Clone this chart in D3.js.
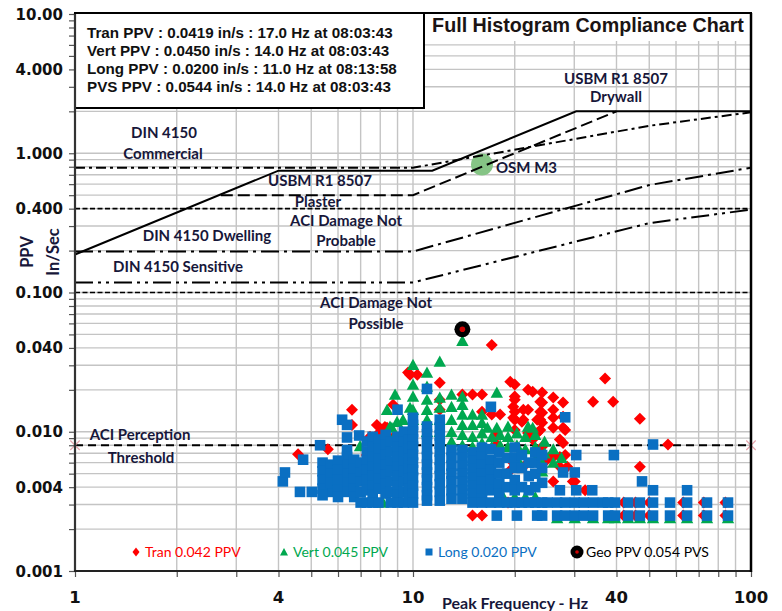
<!DOCTYPE html>
<html>
<head>
<meta charset="utf-8">
<script src="https://cdn.jsdelivr.net/npm/d3@7"></script>
<style>
  body { margin: 0; background: #fff; }
  .lbl { font-family: Lato, "Open Sans", sans-serif; font-weight: bold; font-size: 15px; fill: #17173a; }
  .tick-lbl { font-family: "DejaVu Sans", sans-serif; font-weight: bold; font-size: 15px; fill: #111; }
  .info { font-family: "Liberation Sans", Arial, sans-serif; font-weight: bold; font-size: 15.2px; fill: #111; }
  .legend { font-family: Lato, sans-serif; font-size: 14px; }
</style>
</head>
<body>
<script>
// ---- data ----
var yLabelVals = [10, 4, 1, 0.4, 0.1, 0.04, 0.01, 0.004, 0.001];
var yLabelText = ["10.00", "4.000", "1.000", "0.400", "0.100", "0.040", "0.010", "0.004", "0.001"];
var xLabelVals = [1, 4, 10, 40, 100];
var xLabelText = ["1", "4", "10", "40", "100"];

var infoLines = [
  "Tran PPV : 0.0419 in/s : 17.0 Hz at 08:03:43",
  "Vert PPV : 0.0450 in/s : 14.0 Hz at 08:03:43",
  "Long PPV : 0.0200 in/s : 11.0 Hz at 08:13:58",
  "PVS PPV : 0.0544 in/s : 14.0 Hz at 08:03:43"
];

var legendLabels = ["Tran 0.042 PPV", "Vert 0.045 PPV", "Long 0.020 PPV", "Geo PPV 0.054 PVS"];

// compliance curves [Hz, in/s]
var usbmDrywall = [[1, 0.1875], [4, 0.75], [11.4, 0.75], [30.4, 2.0], [100, 2.0]];
var usbmPlaster = [[2.7, 0.5], [10, 0.5], [40, 2.0]];
var dinCommercial = [[1, 0.787], [10, 0.787], [50, 1.575], [100, 1.969]];
var dinDwelling = [[1, 0.197], [10, 0.197], [50, 0.591], [100, 0.787]];
var dinSensitive = [[1, 0.118], [10, 0.118], [50, 0.315], [100, 0.394]];
var aciNotProbable = [[1, 0.4], [100, 0.4]];
var aciNotPossible = [[1, 0.1], [100, 0.1]];
var aciPerception = [[1, 0.008], [100, 0.008]];
var osmM3 = [[16, 0.83]];
var geoPts = [[14, 0.0544]];

// events [Hz, in/s]
var tranPts = [
  [4.57,0.0069],[5.6,0.0075],[6.6,0.0144],[6.6,0.0112],[7.3,0.0068],[7.46,0.0092],[7.82,0.0112],
  [7.99,0.0100],[8.26,0.0108],[8.38,0.0107],[8.73,0.0156],[8.73,0.0091],[9.67,0.0266],[9.8,0.0257],
  [10.3,0.0257],[12,0.0225],[12,0.017],[12,0.0144],[14,0.0185],[15,0.0185],[16,0.0185],[16,0.0139],
  [17.1,0.0419],[17.1,0.0133],[18.1,0.0133],[19.4,0.0229],[20,0.0218],[20,0.0179],[20,0.017],
  [20,0.0139],[20,0.0122],[20,0.0103],[19.8,0.0151],[19.8,0.0126],[21,0.0118],[21.2,0.0144],
  [21.2,0.0122],[21.9,0.02],[21.9,0.0144],[21.9,0.0098],[22.6,0.0194],[22.6,0.0088],[23.3,0.0122],
  [23.3,0.0098],[23.8,0.0164],[23.8,0.0139],[23.8,0.0122],[23.8,0.0103],[24.1,0.0191],[24.1,0.0162],
  [24.1,0.0137],[24.1,0.0116],[24.1,0.0078],[24.1,0.0068],[26,0.0176],[26,0.0144],[26,0.0126],
  [26,0.0107],[26,0.0066],[26,0.0044],[27.2,0.0088],[27.2,0.0066],[27.2,0.0056],[27.8,0.0162],
  [27.8,0.0128],[27.8,0.0107],[27.8,0.0083],[28.2,0.0103],[28.2,0.0068],[25.7,0.0068],[28.6,0.0056],
  [29.7,0.0044],[30.1,0.0044],[32.3,0.0038],[34.1,0.0164],[37,0.0241],[39.1,0.0164],[46.9,0.0124],
  [46.9,0.0056],[56.8,0.0081],[15,0.0025],[16,0.0025],[19.1,0.0031],[17.7,0.0098],[17.7,0.0081],
  [19.4,0.0063],[19.4,0.0053],[21.2,0.0056],[23,0.0074],[24.9,0.0063],
  [42,0.0031],[45.5,0.0031],[50,0.0031],[63,0.0031],[72.5,0.0031],[84,0.0031],
  [42,0.0025],[45.5,0.0025],[50,0.0025],[63,0.0025],[72.5,0.0025],[84,0.0025]
];

var vertPts = [
  [14,0.045],[12,0.0319],[10,0.0303],[11,0.0266],[10,0.0218],[11,0.0211],[10,0.0179],[11,0.017],
  [12,0.0176],[13,0.0185],[14,0.0179],[17.7,0.0191],[11,0.0144],[12,0.0149],[13,0.0151],[14,0.0156],
  [10,0.0144],[13,0.0122],[14,0.0133],[15,0.0133],[16,0.0133],[16,0.0116],[16.6,0.0107],[17.7,0.0107],
  [19.1,0.0109],[21.9,0.0109],[22.6,0.0107],[8.85,0.0185],[8.38,0.0144],[8.97,0.0118],[9.34,0.0122],
  [9.8,0.0149],[8.66,0.0107],[6.97,0.0079],[8.15,0.0031],[9.15,0.0088],[8.55,0.0109],[8.85,0.0095],
  [10,0.0122],[11,0.0122],[11,0.01],[12,0.0122],[12,0.01],[13,0.01],[13,0.0085],[14,0.0112],
  [14,0.0095],[14,0.008],[15,0.0112],[15,0.0092],[15,0.0078],[16,0.0098],[16,0.0083],[17.1,0.0092],
  [17.1,0.0078],[18.1,0.0095],[18.1,0.008],[19.1,0.0092],[19.1,0.0078],[20.3,0.0098],[20.3,0.008],
  [20.3,0.0065],[21.5,0.0092],[21.5,0.0075],[23,0.0095],[23,0.0078],[23,0.0063],[24.5,0.0085],
  [24.5,0.007],[24.1,0.006],[24.1,0.0052],[26,0.0075],[26,0.006],[27.5,0.0065],
  [18.5,0.0034],[20,0.0034],[21.5,0.0034],[23,0.0034],
  [26.7,0.0024],[30.1,0.0024],[34.1,0.0024],[37.8,0.0024],[39.6,0.0024],[43.3,0.0024],[46.9,0.0024],
  [51.3,0.0024],[57.6,0.0024],[64.7,0.0024],[74.1,0.0024],[85.5,0.0024]
];

var longPts = [
  [4.12,0.0044],[4.18,0.0051],[4.63,0.0037],[4.73,0.0063],[5.02,0.0037],[5.31,0.008],[5.42,0.0037],
  [5.68,0.0037],[6.17,0.0122],[6.38,0.0112],[6.38,0.0091],[6.93,0.0094],[6.38,0.0074],[6.38,0.0066],
  [5.4,0.006],[5.4,0.0052],[5.4,0.0045],[5.4,0.0039],[5.4,0.0035],
  [5.7,0.0058],[5.7,0.005],[5.7,0.0043],
  [6.0,0.0062],[6.0,0.0053],[6.0,0.0045],[6.0,0.0038],[6.0,0.0034],
  [6.4,0.0058],[6.4,0.005],[6.4,0.0043],[6.4,0.0037],
  [6.7,0.0063],[6.7,0.0054],[6.7,0.0046],[6.7,0.0039],[6.7,0.0034],
  [7.0,0.006],[7.0,0.0051],[7.0,0.0044],[7.0,0.0037],[7.0,0.0031],
  [7.3,0.0085],[7.3,0.0072],[7.3,0.0062],[7.3,0.0053],[7.3,0.0045],[7.3,0.0038],[7.3,0.0031],
  [7.6,0.0092],[7.6,0.0078],[7.6,0.0066],[7.6,0.0056],[7.6,0.0048],[7.6,0.0041],[7.6,0.0035],[7.6,0.0031],
  [7.9,0.0088],[7.9,0.0075],[7.9,0.0064],[7.9,0.0054],[7.9,0.0046],[7.9,0.0039],[7.9,0.0031],
  [8.3,0.0095],[8.3,0.008],[8.3,0.0068],[8.3,0.0058],[8.3,0.0049],[8.3,0.0042],[8.3,0.0036],
  [8.6,0.0085],[8.6,0.0072],[8.6,0.0061],[8.6,0.0052],[8.6,0.0044],[8.6,0.0037],[8.6,0.0031],
  [9.0,0.0144],[9.0,0.0092],[9.0,0.0078],[9.0,0.0066],[9.0,0.0056],[9.0,0.0048],[9.0,0.0041],[9.0,0.0035],[9.0,0.0031],
  [9.4,0.01],[9.4,0.0085],[9.4,0.0072],[9.4,0.0061],[9.4,0.0052],[9.4,0.0044],[9.4,0.0037],[9.4,0.0031],
  [9.7,0.0088],[9.7,0.0075],[9.7,0.0064],[9.7,0.0054],[9.7,0.0046],[9.7,0.0039],[9.7,0.0033],
  [10,0.0126],[10,0.0112],[10,0.01],[10,0.0088],[10,0.0078],[10,0.0068],[10,0.006],[10,0.0053],[10,0.0047],[10,0.0041],[10,0.0036],[10,0.0031],
  [11,0.0203],[11,0.0109],[11,0.0096],[11,0.0085],[11,0.0075],[11,0.0066],[11,0.0058],[11,0.0051],[11,0.0045],[11,0.004],[11,0.0035],[11,0.0032],
  [12,0.0122],[12,0.0107],[12,0.0094],[12,0.0082],[12,0.0072],[12,0.0063],[12,0.0055],[12,0.0048],[12,0.0042],[12,0.0037],[12,0.0032],
  [13,0.0074],[13,0.0065],[13,0.0057],[13,0.005],[13,0.0044],[13,0.0038],[13,0.0033],
  [14,0.0074],[14,0.0065],[14,0.0057],[14,0.005],[14,0.0044],[14,0.0038],[14,0.0033],
  [15,0.0071],[15,0.0062],[15,0.0054],[15,0.0047],[15,0.0041],[15,0.0036],[15,0.0031],
  [16,0.0077],[16,0.0066],[16,0.0058],[16,0.005],[16,0.0044],[16,0.0038],[16,0.0033],[16,0.0031],
  [17,0.0151],[17,0.0075],[17,0.0063],[17,0.0053],[17,0.0045],[17,0.0038],[17,0.0031],[17.7,0.0025],
  [18,0.0071],[18,0.006],[18,0.005],[18,0.0042],[18,0.0036],[18,0.0031],
  [19,0.0065],[19,0.005],[19,0.004],[19,0.0031],
  [20,0.0077],[20,0.0065],[20,0.0055],[20,0.0045],[20,0.0038],[20,0.0031],[20.3,0.0025],
  [21,0.0068],[21,0.0055],[21,0.004],[21,0.0031],
  [22,0.006],[22,0.0048],[22,0.0038],[22,0.0031],
  [23,0.0071],[23,0.006],[23,0.005],[23,0.004],[23,0.0031],[23.3,0.0025],
  [24.1,0.0068],[24.1,0.0055],[24.1,0.0043],[24.1,0.0031],[24.1,0.0025],
  [28.2,0.0127],[30.4,0.0068],[39.3,0.0068],[27.8,0.0051],[30.1,0.0051],[47.6,0.0044],[33.9,0.0038],
  [27.2,0.0038],[30.4,0.0038],[51.3,0.0081],[51.3,0.0038],[64.7,0.0038],
  [25,0.0031],[26.7,0.0031],[28.2,0.0031],[30.1,0.0031],[32,0.0031],[34.1,0.0031],[36.5,0.0031],
  [37.8,0.0031],[39.6,0.0031],[43.3,0.0031],[46.9,0.0031],[51.3,0.0031],[57.6,0.0031],[64.7,0.0031],
  [74.1,0.0031],[85.5,0.0031],
  [26.7,0.0025],[28.2,0.0025],[30.1,0.0025],[32,0.0025],[34.1,0.0025],[37.8,0.0025],[39.6,0.0025],
  [43.3,0.0025],[46.9,0.0025],[51.3,0.0025],[57.6,0.0025],[64.7,0.0025],[74.1,0.0025],[85.5,0.0025]
];

// ---- chart ----
var W = 782, H = 611;
var x = d3.scaleLog().domain([1, 100]).range([75, 751]);
var y = d3.scaleLog().domain([0.001, 10]).range([571, 14]);

var svg = d3.select("body").append("svg")
    .attr("width", W).attr("height", H);

svg.append("rect").attr("width", W).attr("height", H).attr("fill", "#fff");

// grid
var grid = svg.append("g");
grid.selectAll(".gx").data(x.ticks()).enter().append("line")
    .attr("x1", d => x(d)).attr("x2", d => x(d))
    .attr("y1", y(10)).attr("y2", y(0.001))
    .attr("stroke", "#c4c4c4").attr("stroke-width", 1.4);
grid.selectAll(".gy").data(y.ticks()).enter().append("line")
    .attr("x1", x(1)).attr("x2", x(100))
    .attr("y1", d => y(d)).attr("y2", d => y(d))
    .attr("stroke", "#c4c4c4").attr("stroke-width", 1.4);

// OSM M3 marker
svg.selectAll(".osm").data(osmM3).enter().append("circle")
    .attr("cx", d => x(d[0])).attr("cy", d => y(d[1])).attr("r", 11)
    .attr("fill", "#85c485");

// compliance lines
var line = d3.line().x(d => x(d[0])).y(d => y(d[1]));
function drawRef(pts, dash, w) {
  svg.append("path").datum(pts).attr("d", line)
    .attr("fill", "none").attr("stroke", "#000")
    .attr("stroke-width", w).attr("stroke-dasharray", dash);
}
drawRef(aciNotProbable, "5,2.5", 1.6);
drawRef(aciNotPossible, "5,2.5", 1.6);
drawRef(aciPerception, "8,5", 2.2);
drawRef(dinCommercial, "10,4,3,4", 2);
drawRef(dinDwelling, "18,5,3,5", 2);
drawRef(dinSensitive, "18,5,3,5,3,5", 2);
drawRef(usbmPlaster, "12,5", 2);
drawRef(usbmDrywall, null, 2);

// end markers of perception line
svg.selectAll(".star").data(aciPerception).enter().append("path")
    .attr("transform", d => "translate(" + x(d[0]) + "," + y(d[1]) + ")")
    .attr("d", d3.symbol(d3.symbolTimes, 60))
    .attr("fill", "none").attr("stroke", "#e6a6ae").attr("stroke-width", 1.2);

// scatter
svg.append("g").selectAll("path").data(tranPts).enter().append("path")
    .attr("transform", d => "translate(" + x(d[0]) + "," + y(d[1]) + ")")
    .attr("d", "M0,-6L6,0L0,6L-6,0Z")
    .attr("fill", "#ff0000");

svg.append("g").selectAll("path").data(vertPts).enter().append("path")
    .attr("transform", d => "translate(" + x(d[0]) + "," + y(d[1]) + ")")
    .attr("d", "M0,-6L6.2,5.2L-6.2,5.2Z")
    .attr("fill", "#00a84f");

svg.append("g").selectAll("rect").data(longPts).enter().append("rect")
    .attr("x", d => x(d[0]) - 5.3).attr("y", d => y(d[1]) - 5.3)
    .attr("width", 10.6).attr("height", 10.6)
    .attr("fill", "#0a6fc2");

var geo = svg.append("g").selectAll("g").data(geoPts).enter().append("g")
    .attr("transform", d => "translate(" + x(d[0]) + "," + y(d[1]) + ")");
geo.append("circle").attr("r", 8).attr("fill", "#000");
geo.append("circle").attr("r", 2.8).attr("fill", "#d00000");

// info box
svg.append("rect").attr("x", 75).attr("y", 13).attr("width", 349).attr("height", 95)
    .attr("fill", "#fff").attr("stroke", "#000").attr("stroke-width", 2);
svg.selectAll(".info").data(infoLines).enter().append("text")
    .attr("class", "info").attr("x", 87).attr("y", (d, i) => 38.3 + i * 18)
    .text(d => d);

// title
svg.append("rect").attr("x", 425).attr("y", 14).attr("width", 325).attr("height", 27).attr("fill", "#fff");
svg.append("text").attr("x", 588).attr("y", 31.5).attr("text-anchor", "middle")
    .style("font-family", "'Liberation Sans', Arial, sans-serif").style("font-weight", "bold")
    .style("font-size", "19.7px").style("fill", "#1a1414")
    .text("Full Histogram Compliance Chart");

// annotations
var notes = [
  ["DIN 4150", 164, 138], ["Commercial", 163, 159],
  ["USBM R1 8507", 320, 186], ["Plaster", 318, 207],
  ["ACI Damage Not", 346, 226], ["Probable", 346, 246],
  ["DIN 4150 Dwelling", 207, 241], ["DIN 4150 Sensitive", 178, 272],
  ["ACI Damage Not", 376, 308], ["Possible", 376, 329],
  ["ACI Perception", 140, 440], ["Threshold", 141, 463],
  ["USBM R1 8507", 616, 84], ["Drywall", 616, 102]
];
svg.selectAll(".note").data(notes).enter().append("text")
    .attr("class", "lbl").attr("x", d => d[1]).attr("y", d => d[2])
    .attr("text-anchor", "middle").text(d => d[0]);
svg.append("text").attr("class", "lbl").attr("x", 496).attr("y", 173).text("OSM M3");

// legend
var legColors = ["#ff0000", "#00a84f", "#0a6fc2", "#000"];
var legX = [136, 284, 429, 577];
var lg = svg.append("g");
legendLabels.forEach(function (t, i) {
  var g = lg.append("g").attr("transform", "translate(" + legX[i] + ",552)");
  if (i == 0) g.append("path").attr("d", "M0,-4.5L3.5,0L0,4.5L-3.5,0Z").attr("fill", legColors[i]);
  if (i == 1) g.append("path").attr("d", "M0,-4L4,3.5L-4,3.5Z").attr("fill", legColors[i]);
  if (i == 2) g.append("rect").attr("x", -3.5).attr("y", -3.5).attr("width", 7).attr("height", 7).attr("fill", legColors[i]);
  if (i == 3) {
    g.append("circle").attr("r", 6.5).attr("fill", "#000");
    g.append("circle").attr("r", 1.8).attr("fill", "#d00000");
  }
  g.append("text").attr("class", "legend").attr("x", 9).attr("y", 5)
    .style("fill", legColors[i]).text(t);
});

// axes
svg.append("g").attr("transform", "translate(75,0)")
    .call(d3.axisLeft(y).tickValues(y.ticks()).tickSize(6).tickFormat(""))
    .call(g => g.select(".domain").remove())
    .call(g => g.selectAll("line").attr("stroke", "#555").attr("stroke-width", 1.2));
svg.append("g").attr("transform", "translate(0,571)")
    .call(d3.axisBottom(x).tickValues(x.ticks()).tickSize(6).tickFormat(""))
    .call(g => g.select(".domain").remove())
    .call(g => g.selectAll("line").attr("stroke", "#555").attr("stroke-width", 1.2));

svg.selectAll(".ylab").data(yLabelVals).enter().append("text")
    .attr("class", "tick-lbl").attr("x", 63).attr("y", d => y(d) + 5.5)
    .attr("text-anchor", "end").text((d, i) => yLabelText[i]);
svg.selectAll(".xlab").data(xLabelVals).enter().append("text")
    .attr("class", "tick-lbl").attr("x", d => x(d)).attr("y", 603)
    .attr("text-anchor", "middle").style("font-size", "16.5px").text((d, i) => xLabelText[i]);

// frame
svg.append("line").attr("x1", 75).attr("x2", 75).attr("y1", 13).attr("y2", 572)
    .attr("stroke", "#333").attr("stroke-width", 2.2);
svg.append("line").attr("x1", 74).attr("x2", 752).attr("y1", 571).attr("y2", 571)
    .attr("stroke", "#222").attr("stroke-width", 2);
svg.append("line").attr("x1", 751).attr("x2", 751).attr("y1", 13).attr("y2", 572)
    .attr("stroke", "#000").attr("stroke-width", 2.5);
svg.append("line").attr("x1", 74).attr("x2", 752).attr("y1", 13).attr("y2", 13)
    .attr("stroke", "#000").attr("stroke-width", 2);

// axis titles
svg.append("text").attr("class", "lbl").attr("x", 515).attr("y", 609)
    .attr("text-anchor", "middle").style("font-size", "16px")
    .text("Peak Frequency - Hz");
svg.append("text").attr("class", "lbl").attr("transform", "translate(33,252) rotate(-90)")
    .attr("text-anchor", "middle").style("font-size", "16.5px").text("PPV");
svg.append("text").attr("class", "lbl").attr("transform", "translate(59,252) rotate(-90)")
    .attr("text-anchor", "middle").style("font-size", "16.5px").text("In/Sec");
</script>
</body>
</html>
